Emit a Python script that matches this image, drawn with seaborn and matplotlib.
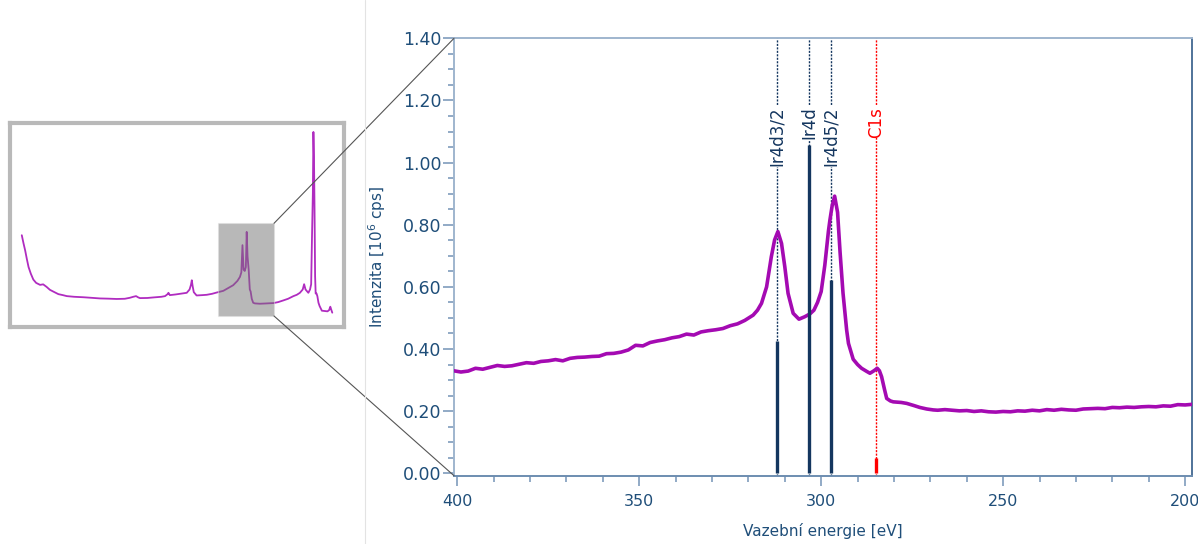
import matplotlib
matplotlib.use("Agg")
import matplotlib.pyplot as plt
import seaborn as sns
import pandas as pd
from matplotlib.patches import Rectangle, ConnectionPatch
from matplotlib.lines import Line2D
from matplotlib.ticker import MultipleLocator, FormatStrFormatter

# detail spectrum (Ir4d region), binding energy [eV] / intensity [10^6 cps]
energy = [401, 399, 397, 395, 393, 391, 389, 387, 385, 383, 381, 379, 377, 375, 373, 371,
          369, 367, 365, 363, 361, 359, 357, 355, 353, 351, 349, 347, 345, 343, 341, 339,
          337, 335, 333, 331, 329, 327, 325, 323, 321, 318.7, 317.5, 316.4, 315, 313.7,
          312.8, 311.9, 310.9, 310, 309.1, 307.7, 306.1, 304.5, 303.1, 302, 301, 300, 299,
          298, 297.6, 297, 296.3, 295.5, 294.8, 294, 293, 292.5, 291.2, 290, 288.9, 287.5,
          286.6, 285.5, 284.6, 284, 283.4, 282.6, 282, 281, 280.2, 278, 276.5, 274.5, 272.9,
          271, 269.2, 268, 266, 264, 262, 260, 258, 256, 254, 252, 250, 248, 246, 244, 242,
          240, 238, 236, 234, 232, 230, 228, 226, 224, 222, 220, 218, 216, 214, 212, 210,
          208, 206, 204, 202, 200, 198]
intensity = [0.330, 0.326, 0.329, 0.338, 0.335, 0.341, 0.347, 0.344, 0.346, 0.351, 0.356,
             0.354, 0.360, 0.362, 0.366, 0.362, 0.370, 0.373, 0.374, 0.376, 0.377, 0.385,
             0.386, 0.390, 0.397, 0.412, 0.410, 0.421, 0.426, 0.430, 0.436, 0.440, 0.448,
             0.445, 0.455, 0.459, 0.462, 0.466, 0.475, 0.481, 0.492, 0.509, 0.525, 0.547,
             0.600, 0.697, 0.751, 0.778, 0.740, 0.665, 0.579, 0.515, 0.496, 0.504, 0.513,
             0.525, 0.550, 0.585, 0.670, 0.780, 0.815, 0.860, 0.892, 0.840, 0.710, 0.580,
             0.461, 0.418, 0.367, 0.350, 0.338, 0.328, 0.322, 0.330, 0.338, 0.330, 0.311,
             0.270, 0.241, 0.233, 0.230, 0.228, 0.225, 0.218, 0.212, 0.207, 0.204, 0.203,
             0.205, 0.203, 0.201, 0.202, 0.199, 0.201, 0.198, 0.197, 0.199, 0.198, 0.201,
             0.200, 0.203, 0.201, 0.205, 0.203, 0.206, 0.204, 0.203, 0.207, 0.208, 0.209,
             0.208, 0.212, 0.211, 0.213, 0.212, 0.214, 0.215, 0.214, 0.217, 0.216, 0.221,
             0.220, 0.222]

# survey spectrum shown in the small overview panel
survey_energy = [1096, 1090, 1084, 1078, 1072, 1064, 1055, 1045, 1031, 1020, 1008, 996, 980,
                 966, 950, 936, 910, 877, 850, 818, 790, 759, 730, 712, 700, 690, 682, 676,
                 650, 629, 600, 587, 578, 575, 570, 550, 534, 510, 500, 495, 492, 489, 485,
                 475, 455, 439, 420, 403, 380, 345, 330, 321, 316, 312, 308, 304, 300, 297,
                 294, 290, 286, 283, 279, 274, 268, 250, 225, 202, 185, 167, 150, 131, 119,
                 108, 98, 93, 88, 78, 72, 68, 65, 62, 60, 58, 56, 54, 52, 49, 46, 42, 38, 30,
                 20, 10, 4, 0, -3, -7]
survey_intensity = [1.22, 1.10, 0.99, 0.86, 0.74, 0.64, 0.55, 0.50, 0.47, 0.478, 0.44, 0.395,
                    0.36, 0.33, 0.315, 0.30, 0.29, 0.283, 0.275, 0.265, 0.262, 0.257, 0.26,
                    0.275, 0.29, 0.30, 0.28, 0.27, 0.272, 0.28, 0.29, 0.30, 0.33, 0.35, 0.315,
                    0.325, 0.335, 0.35, 0.40, 0.47, 0.54, 0.45, 0.36, 0.31, 0.315, 0.32, 0.335,
                    0.355, 0.38, 0.465, 0.53, 0.59, 0.66, 1.07, 0.70, 0.68, 0.74, 1.27, 0.90,
                    0.70, 0.40, 0.37, 0.26, 0.20, 0.19, 0.185, 0.19, 0.195, 0.21, 0.235, 0.26,
                    0.30, 0.32, 0.35, 0.40, 0.48, 0.40, 0.35, 0.40, 0.48, 1.2, 1.85, 2.78, 2.40,
                    1.60, 0.60, 0.34, 0.34, 0.30, 0.20, 0.15, 0.08, 0.075, 0.07, 0.09, 0.14,
                    0.10, 0.05]

# reference lines
peak_labels = ["Ir4d3/2", "Ir4d", "Ir4d5/2", "C1s"]
peak_energy = [312.2, 303.3, 297.2, 284.8]
peak_height = [0.427, 1.057, 0.622, 0.050]
peak_colors = ["#14365f", "#14365f", "#14365f", "#ff0000"]

spec_color = "#a40ab2"
tick_color = "#1f4e79"

sns.set_theme(style="white")
plt.rcParams['font.family'] = ['DejaVu Sans']

W, H = 1198, 544
fig = plt.figure(figsize=(W / 100, H / 100), dpi=100)

# main plot
ax = fig.add_axes([454 / W, 1 - 475.7 / H, (1192 - 454) / W, (475.7 - 38.3) / H])
df = pd.DataFrame({'E': energy, 'I': intensity})
sns.lineplot(data=df, x='E', y='I', ax=ax, color=spec_color, lw=2.6, zorder=4,
             estimator=None, sort=False)

for lab, e, h, c in zip(peak_labels, peak_energy, peak_height, peak_colors):
    ax.axvline(e, color=c, lw=1.0, ls=(0, (1.5, 1)), zorder=2)
    ax.vlines(e, 0, h, color=c, lw=2.4, zorder=5)
    ax.text(e, 1.18, lab, rotation=90, ha='center', va='top', color=c, fontsize=12,
            zorder=3, bbox=dict(fc='white', ec='none', pad=0.5))

ax.set_xlim(400.9, 198.1)
ax.set_ylim(-0.0077, 1.40)
ax.xaxis.set_major_locator(MultipleLocator(50))
ax.xaxis.set_minor_locator(MultipleLocator(10))
ax.yaxis.set_major_locator(MultipleLocator(0.2))
ax.yaxis.set_minor_locator(MultipleLocator(0.05))
ax.yaxis.set_major_formatter(FormatStrFormatter('%.2f'))
ax.tick_params(which='both', direction='out', color='#7f9cbc', labelcolor=tick_color,
               width=1.2, bottom=True, left=True)
ax.tick_params(axis='x', which='major', length=7, pad=6, labelsize=11.5)
ax.tick_params(axis='x', which='minor', length=4.5)
ax.tick_params(axis='y', which='major', length=8, pad=1, labelsize=12.5)
ax.tick_params(axis='y', which='minor', length=4.5)
ax.set_xlabel('Vazební energie [eV]', color=tick_color, fontsize=11, labelpad=10)
ax.set_ylabel('Intenzita [10$^6$ cps]', color=tick_color, fontsize=11, labelpad=11)
for side, col in [('left', '#9fb5ce'), ('top', '#9fb5ce'), ('bottom', '#6d8db0'), ('right', '#4f7399')]:
    ax.spines[side].set_color(col)
    ax.spines[side].set_linewidth(1.4)

# overview panel
ax_in = fig.add_axes([10.3 / W, 1 - 327.3 / H, 333.4 / W, 204.6 / H])
sdf = pd.DataFrame({'E': survey_energy, 'I': survey_intensity})
sns.lineplot(data=sdf, x='E', y='I', ax=ax_in, color='#b02cc0', lw=1.3,
             estimator=None, sort=False)
ax_in.set_xlim(1136.8, -47.6)
ax_in.set_ylim(-0.171, 2.92)
ax_in.set_xticks([])
ax_in.set_yticks([])
ax_in.set_xlabel('')
ax_in.set_ylabel('')
for s in ax_in.spines.values():
    s.set_color('#b9b9b9')
    s.set_linewidth(3)
ax_in.add_patch(Rectangle((200, 0), 200, 1.4, fc='#737373', ec='#e0e0e0', lw=0.8,
                          alpha=0.5, zorder=5))

for ya, yb in [(1.4, 1), (0, 0)]:
    con = ConnectionPatch(xyA=(200, ya), coordsA=ax_in.transData,
                          xyB=(0, yb), coordsB=ax.transAxes,
                          color='#555555', lw=0.8)
    fig.add_artist(con)

fig.add_artist(Line2D([365 / W, 365 / W], [0, 1], transform=fig.transFigure,
                      color='#e3e3e3', lw=0.8))

fig.savefig('out.png', dpi=100)
